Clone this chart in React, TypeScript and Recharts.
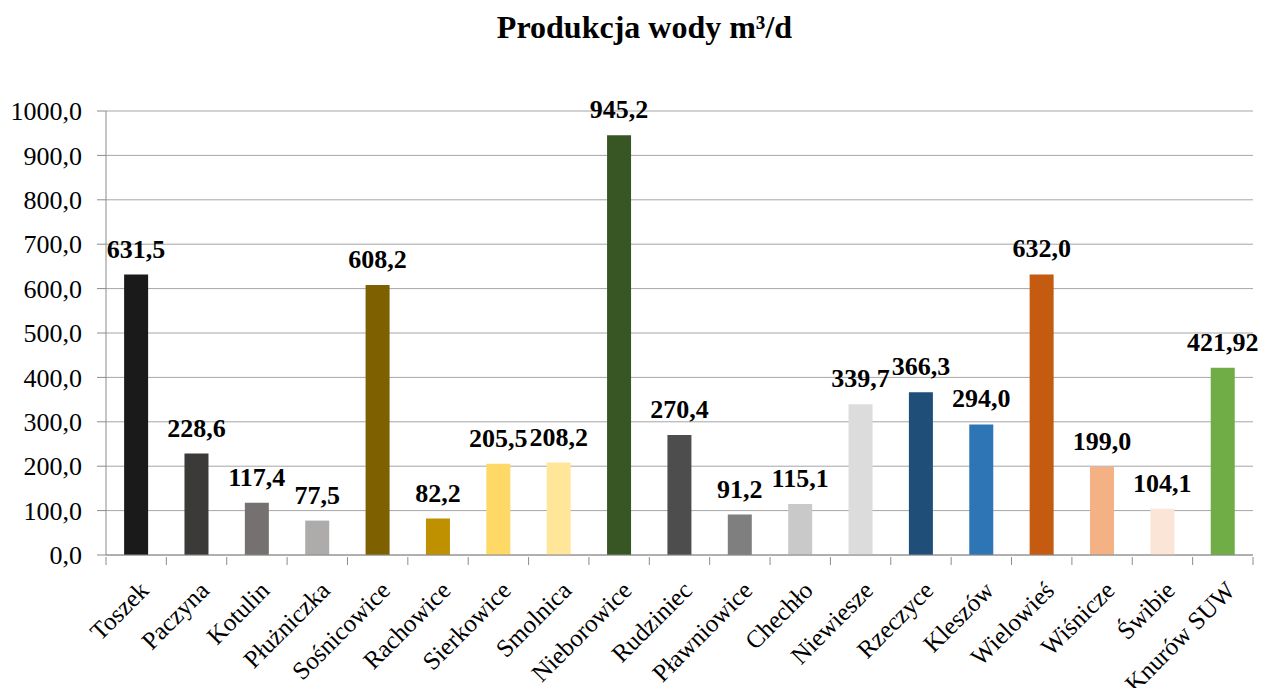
import { BarChart, Bar, XAxis, YAxis, CartesianGrid, Cell, LabelList } from "recharts";

const stations = [
    "Toszek", "Paczyna", "Kotulin", "Płużniczka", "Sośnicowice", "Rachowice", "Sierkowice",
    "Smolnica", "Nieborowice", "Rudziniec", "Pławniowice", "Chechło", "Niewiesze", "Rzeczyce",
    "Kleszów", "Wielowieś", "Wiśnicze", "Świbie", "Knurów SUW",
];
const production = [
    631.5, 228.6, 117.4, 77.5, 608.2, 82.2, 205.5, 208.2, 945.2, 270.4,
    91.2, 115.1, 339.7, 366.3, 294.0, 632.0, 199.0, 104.1, 421.92,
];
const labels = [
    "631,5", "228,6", "117,4", "77,5", "608,2", "82,2", "205,5", "208,2", "945,2", "270,4",
    "91,2", "115,1", "339,7", "366,3", "294,0", "632,0", "199,0", "104,1", "421,92",
];
const colors = [
    "#1a1a1a", "#3b3a39", "#767171", "#aeabab", "#7f6000", "#bf9000", "#ffd966",
    "#ffe699", "#375623", "#4d4d4d", "#7f7f7f", "#c9c9c9", "#dcdcdc", "#1f4e79",
    "#2e75b6", "#c55a11", "#f4b183", "#fbe5d6", "#70ad47",
];
const yTicks = [0, 100, 200, 300, 400, 500, 600, 700, 800, 900, 1000];

const data = stations.map((name, i) => ({ name, value: production[i], label: labels[i] }));

const W = 1260;
const H = 688;
const LEFT = 98;
const RIGHT = 15;
const band = (W - LEFT - RIGHT) / stations.length;
const font = "Liberation Serif";

const XTick = (props: any) => {
    const { x, y, payload, index } = props;
    const tx = x + 14;
    const ty = y + 35;
    return (
        <g>
            <line x1={x - band / 2} y1={y} x2={x - band / 2} y2={y + 8} stroke="#8c8c8c" />
            {index === stations.length - 1 && (
                <line x1={x + band / 2} y1={y} x2={x + band / 2} y2={y + 8} stroke="#8c8c8c" />
            )}
            <text
                x={tx}
                y={ty}
                transform={`rotate(-45, ${tx}, ${ty})`}
                textAnchor="end"
                fontSize={25}
                fontFamily={font}
                fill="#000"
            >
                {payload.value}
            </text>
        </g>
    );
};

const App = () => {
    return (
        <div style={{ position: "relative", width: W, height: H, marginBottom: -8, fontFamily: font }}>
            <div
                style={{
                    position: "absolute",
                    left: 0,
                    width: W,
                    top: 1,
                    textAlign: "center",
                    fontSize: 32,
                    fontWeight: "bold",
                    paddingLeft: 13,
                    boxSizing: "border-box",
                }}
            >
                Produkcja wody m³/d
            </div>
            <BarChart
                width={W}
                height={H}
                data={data}
                margin={{ top: 103, right: RIGHT, left: 0, bottom: 0 }}
                barCategoryGap="30%"
                style={{ fontFamily: font }}
            >
                <CartesianGrid vertical={false} stroke="#a6a6a6" />
                <XAxis
                    dataKey="name"
                    interval={0}
                    height={141}
                    tickSize={0}
                    tickLine={false}
                    axisLine={{ stroke: "#8c8c8c" }}
                    tick={<XTick />}
                />
                <YAxis
                    width={LEFT}
                    domain={[0, 1000]}
                    ticks={yTicks}
                    interval={0}
                    tickSize={9}
                    tickMargin={15}
                    tickLine={{ stroke: "#8c8c8c" }}
                    axisLine={{ stroke: "#8c8c8c" }}
                    tickFormatter={(v: number) => v.toFixed(1).replace(".", ",")}
                    tick={{ fontSize: 26, fontFamily: font, fill: "#000" }}
                />
                <Bar dataKey="value" isAnimationActive={false}>
                    {data.map((d, i) => (
                        <Cell key={d.name} fill={colors[i]} />
                    ))}
                    <LabelList
                        dataKey="label"
                        position="top"
                        offset={17}
                        fontFamily={font}
                        fontSize={26}
                        fontWeight="bold"
                        fill="#000"
                    />
                </Bar>
            </BarChart>
        </div>
    );
};

export default App;
